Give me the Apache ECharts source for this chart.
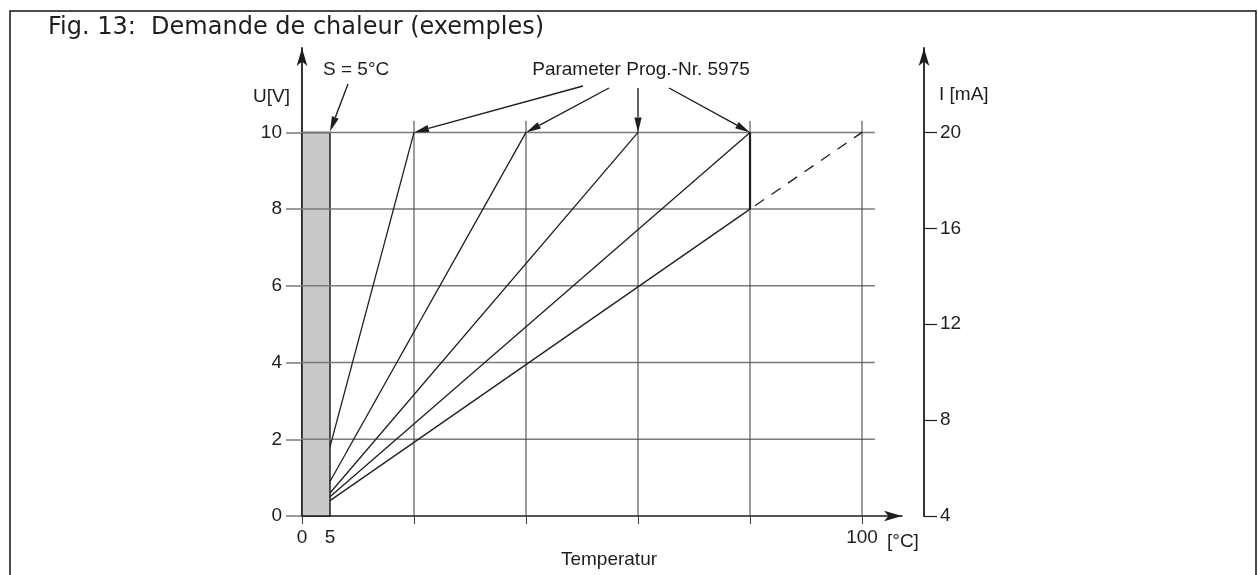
<!DOCTYPE html>
<html>
<head>
<meta charset="utf-8">
<script src="https://cdn.jsdelivr.net/npm/echarts@6/dist/echarts.min.js"></script>
<style>
  html, body { margin: 0; padding: 0; background: #fff; }
  #chart { width: 1258px; height: 575px; }
</style>
</head>
<body>
<div id="chart"></div>
<script>
// Heat demand signal: output voltage U[V] / current I[mA] versus temperature
const figTitle = 'Fig. 13:  Demande de chaleur (exemples)';
const sensorTemp = 5;                    // S = 5 °C
const voltTicks = [0, 2, 4, 6, 8, 10];   // U [V]
const currentTicks = [4, 8, 12, 16, 20]; // I [mA]
const tempGridLines = [20, 40, 60, 80, 100];
const tempLabels = [0, 5, 100];
const voltMax = 10;

// characteristic curves (parameter 5975): start voltage at S, end point
const curveStartVolt = [1.8, 0.9, 0.6, 0.5, 0.4];
const curveEndTemp = [20, 40, 60, 80, 80];
const curveEndVolt = [10, 10, 10, 10, 8];

// limited curve: step at 80 °C and dashed continuation to 100 °C
const stepTemp = 80;
const stepVolt = [8, 10];
const dashedTemp = [80, 100];
const dashedVolt = [8, 10];

const FONT = 'Liberation Sans, Arial, sans-serif';
const FS = 19;
const INK = '#1e1e1e';

const chart = echarts.init(document.getElementById('chart'));

const X_MAX = 107.14, Y_MAX = 12.2;
const I_MAX = 4 + (Y_MAX / voltMax) * 16;

// grid, curves and annotations sit on an upper layer above the sensor band
const TOP = 1;

const gridSeries = [];
voltTicks.forEach(v => {
  if (v === 0) return;
  gridSeries.push({
    type: 'line', silent: true, clip: false, symbol: 'none', zlevel: TOP, z: 2,
    data: [[-2.9, v], [102.3, v]],
    lineStyle: { color: '#7a7a7a', width: 1.5 }
  });
});
tempGridLines.forEach(t => {
  gridSeries.push({
    type: 'line', silent: true, clip: false, symbol: 'none', zlevel: TOP, z: 2,
    data: [[t, 0], [t, 10.3]],
    lineStyle: { color: '#3a3a3a', width: 1 }
  });
});

const curveSeries = curveStartVolt.map((u0, i) => ({
  type: 'line', silent: true, clip: false, symbol: 'none', zlevel: TOP, z: 4,
  data: [[sensorTemp, u0], [curveEndTemp[i], curveEndVolt[i]]],
  lineStyle: { color: INK, width: 1.3 }
}));

const option = {
  animation: false,
  backgroundColor: '#fff',
  grid: { left: 302, top: 48, width: 600, height: 468, containLabel: false },
  xAxis: {
    type: 'value', min: 0, max: X_MAX,
    axisLine: { show: true, symbol: ['none', 'arrow'], symbolSize: [8, 18],
      lineStyle: { color: INK, width: 1.6 } },
    axisTick: { show: true, customValues: [0].concat(tempGridLines), length: 8, inside: false,
      lineStyle: { color: '#3a3a3a', width: 1 } },
    axisLabel: { show: true, customValues: tempLabels, margin: 12,
      fontSize: FS, color: INK, fontFamily: FONT },
    splitLine: { show: false }
  },
  yAxis: [
    {
      type: 'value', min: 0, max: Y_MAX, position: 'left',
      axisLine: { show: true, symbol: ['none', 'arrow'], symbolSize: [8, 18],
        lineStyle: { color: INK, width: 1.8 } },
      axisTick: { show: true, customValues: voltTicks, length: 16, inside: false,
        lineStyle: { color: '#7a7a7a', width: 1.5 } },
      axisLabel: { show: true, customValues: voltTicks, margin: 20,
        fontSize: FS, color: INK, fontFamily: FONT },
      splitLine: { show: false }
    },
    {
      type: 'value', min: 4, max: I_MAX, position: 'right', offset: 22,
      axisLine: { show: true, symbol: ['none', 'arrow'], symbolSize: [8, 18],
        lineStyle: { color: INK, width: 1.8 } },
      axisTick: { show: true, customValues: currentTicks, length: 13, inside: false,
        lineStyle: { color: INK, width: 1.2 } },
      axisLabel: { show: true, customValues: currentTicks, margin: 16,
        fontSize: FS, color: INK, fontFamily: FONT },
      splitLine: { show: false }
    }
  ],
  series: [
    {
      // sensor band 0 .. S
      type: 'line', silent: true, symbol: 'none', data: [], z: 1,
      markArea: {
        silent: true,
        itemStyle: { color: '#c8c9cb', opacity: 1, borderColor: INK, borderWidth: 1.5 },
        data: [[{ xAxis: 0, yAxis: 0 }, { xAxis: sensorTemp, yAxis: voltMax }]]
      }
    }
  ].concat(gridSeries, curveSeries, [
    {
      type: 'line', silent: true, clip: false, symbol: 'none', zlevel: TOP, z: 5,
      data: [[stepTemp, stepVolt[0]], [stepTemp, stepVolt[1]]],
      lineStyle: { color: INK, width: 2.2 }
    },
    {
      type: 'line', silent: true, clip: false, symbol: 'none', zlevel: TOP, z: 4,
      data: [[dashedTemp[0], dashedVolt[0]], [dashedTemp[1], dashedVolt[1]]],
      lineStyle: { color: INK, width: 1.3, type: [11, 9], dashOffset: -6 }
    }
  ])
};
chart.setOption(option);

// annotations and arrows
function px(t, u) { return chart.convertToPixel({ xAxisIndex: 0, yAxisIndex: 0 }, [t, u]); }

function arrow(x1, y1, x2, y2) {
  const dx = x2 - x1, dy = y2 - y1, len = Math.hypot(dx, dy);
  const ux = dx / len, uy = dy / len;
  const hl = 15, hw = 3.6;
  const bx = x2 - ux * hl, by = y2 - uy * hl;
  return [
    { type: 'line', silent: true, zlevel: TOP, z: 10,
      shape: { x1: x1, y1: y1, x2: bx, y2: by },
      style: { stroke: INK, lineWidth: 1.4 } },
    { type: 'polygon', silent: true, zlevel: TOP, z: 10,
      shape: { points: [[x2, y2], [bx - uy * hw, by + ux * hw], [bx + uy * hw, by - ux * hw]] },
      style: { fill: INK } }
  ];
}

function label(text, x, y, align, size, family) {
  return { type: 'text', silent: true, zlevel: TOP, z: 10, x: x, y: y,
    style: { text: text, fill: INK, font: (size || FS) + 'px ' + (family || FONT),
      align: align || 'left', verticalAlign: 'middle' } };
}

const tipS = px(sensorTemp, voltMax);
const tips = curveEndTemp.slice(0, 4).map((t, i) => px(t, curveEndVolt[i]));
const starts = [[583, 86], [609, 88], [tips[2][0], 88], [669, 88]];
const p100 = px(100, 0);

let graphics = [
  // frame
  { type: 'polyline', silent: true, zlevel: TOP, shape: { points: [[10, 575], [10, 11], [1256, 11], [1256, 575]] },
    style: { stroke: '#111', lineWidth: 1.5, fill: null } },
  label(figTitle, 48, 28, 'left', 24, 'DejaVu Sans, Verdana, sans-serif'),
  label('U[V]', 290, 97, 'right'),
  label('I [mA]', 939, 95, 'left'),
  label('S = 5°C', 323, 70, 'left'),
  label('Parameter Prog.-Nr. 5975', 641, 70, 'center'),
  label('Temperatur', 609, 560, 'center'),
  label('[°C]', p100[0] + 25, 542, 'left')
];
graphics = graphics.concat(arrow(348, 84, tipS[0], tipS[1] - 1));
tips.forEach((t, i) => { graphics = graphics.concat(arrow(starts[i][0], starts[i][1], t[0], t[1])); });

chart.setOption({ graphic: graphics });
</script>
</body>
</html>
